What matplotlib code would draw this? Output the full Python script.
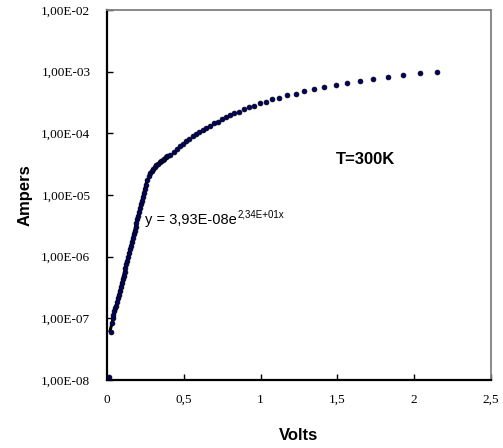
import numpy as np
import matplotlib
matplotlib.use("Agg")
import matplotlib.pyplot as plt
from matplotlib.ticker import FixedLocator, NullLocator, FuncFormatter

# ---- data ----
volts = [0.013,
         0.024, 0.030, 0.036, 0.042, 0.048, 0.054, 0.060, 0.066, 0.072, 0.078,
         0.084, 0.090, 0.096, 0.102, 0.108, 0.114, 0.120, 0.126, 0.132, 0.138,
         0.144, 0.150, 0.156, 0.162, 0.168, 0.174, 0.180, 0.186, 0.192, 0.198,
         0.204, 0.210, 0.216, 0.222, 0.228, 0.234, 0.240, 0.246, 0.252,
         0.262, 0.272, 0.282, 0.292, 0.302, 0.312, 0.322, 0.332, 0.342, 0.352,
         0.362, 0.372, 0.382, 0.392, 0.411, 0.433, 0.455, 0.476, 0.494, 0.515,
         0.537, 0.559, 0.580, 0.602, 0.624, 0.646, 0.672, 0.694, 0.720, 0.749,
         0.775, 0.803, 0.829, 0.862, 0.890, 0.922, 0.955, 0.994, 1.036, 1.075,
         1.123, 1.173, 1.232, 1.285, 1.350, 1.415, 1.490, 1.565, 1.645, 1.730,
         1.830, 1.930, 2.040, 2.150]
amps = [1.13e-8,
        5.9e-8, 8.5e-8, 1.0e-7, 1.15e-7, 1.3e-7, 1.45e-7, 1.60e-7, 1.84e-7, 2.12e-7, 2.43e-7,
        2.80e-7, 3.22e-7, 3.71e-7, 4.27e-7, 4.91e-7, 5.65e-7, 6.50e-7, 7.48e-7, 8.61e-7, 9.91e-7,
        1.14e-6, 1.31e-6, 1.51e-6, 1.74e-6, 2.00e-6, 2.30e-6, 2.65e-6, 3.05e-6, 3.51e-6, 4.04e-6,
        4.65e-6, 5.35e-6, 6.15e-6, 7.08e-6, 8.13e-6, 9.35e-6, 1.08e-5, 1.24e-5, 1.43e-5,
        1.78e-5, 2.04e-5, 2.24e-5, 2.45e-5, 2.63e-5, 2.82e-5, 3.02e-5, 3.16e-5, 3.39e-5, 3.55e-5,
        3.72e-5, 3.89e-5, 4.07e-5, 4.27e-5, 4.47e-5, 4.90e-5, 5.62e-5, 6.17e-5, 6.76e-5, 7.41e-5,
        8.13e-5, 8.91e-5, 9.77e-5, 1.05e-4, 1.15e-4, 1.23e-4, 1.32e-4, 1.45e-4, 1.55e-4, 1.70e-4,
        1.82e-4, 1.95e-4, 2.14e-4, 2.24e-4, 2.45e-4, 2.63e-4, 2.75e-4, 3.09e-4, 3.24e-4, 3.55e-4,
        3.80e-4, 4.17e-4, 4.37e-4, 4.79e-4, 5.25e-4, 5.62e-4, 6.03e-4, 6.46e-4, 7.08e-4, 7.59e-4,
        8.32e-4, 8.91e-4, 9.55e-4, 1.0e-3]

# exponential trendline y = a * exp(b x)
fit_a = 3.93e-8
fit_b = 23.4
fit_range = [0.02, 0.258]
fit_text = "y = 3,93E-08e"
fit_sup = "2,34E+01x"

x_ticks = [0, 0.5, 1, 1.5, 2, 2.5]
y_ticks = [1e-8, 1e-7, 1e-6, 1e-5, 1e-4, 1e-3, 1e-2]

plt.rcParams["font.family"] = ["Liberation Sans", "DejaVu Sans"]

# ---- figure ----
W, H = 503, 448
fig = plt.figure(figsize=(W / 100, H / 100), dpi=100)
ax = fig.add_axes([107 / W, 1 - 380 / H, (491 - 107) / W, (380 - 10) / H])

ax.set_yscale("log")
ax.set_xlim(0, 2.5)
ax.set_ylim(1e-8, 1e-2)

xf = np.linspace(fit_range[0], fit_range[1], 60)
ax.plot(xf, fit_a * np.exp(fit_b * xf), color="black", lw=2.2, zorder=2)
ax.plot(volts, amps, linestyle="none", marker="o", markersize=3.5,
        markerfacecolor="#000066", markeredgecolor="black", markeredgewidth=0.5,
        zorder=3)

ax.xaxis.set_major_locator(FixedLocator(x_ticks))
ax.yaxis.set_major_locator(FixedLocator(y_ticks))
ax.yaxis.set_minor_locator(NullLocator())
ax.xaxis.set_minor_locator(NullLocator())


def yfmt(v, pos):
    e = int(np.floor(np.log10(v) + 1e-9))
    m = v / 10 ** e
    return f"{m:.2f}".replace(".", ",") + f"E{e:+03d}"


def xfmt(v, pos):
    return f"{v:g}".replace(".", ",")


ax.yaxis.set_major_formatter(FuncFormatter(yfmt))
ax.xaxis.set_major_formatter(FuncFormatter(xfmt))

ax.tick_params(axis="y", direction="in", length=4, width=1, pad=12,
               labelsize=9.5)
ax.tick_params(axis="x", direction="in", length=4, width=1, pad=10,
               labelsize=9.5)
for lab in ax.get_xticklabels() + ax.get_yticklabels():
    lab.set_fontfamily("Liberation Serif")

ax.spines["left"].set_linewidth(1.6)
ax.spines["bottom"].set_linewidth(1.6)
ax.spines["left"].set_color("black")
ax.spines["bottom"].set_color("black")
ax.spines["top"].set_color("#808080")
ax.spines["right"].set_color("#808080")
ax.spines["top"].set_linewidth(1.3)
ax.spines["right"].set_linewidth(1.3)

ax.set_xlabel("Volts", fontweight="bold", fontsize=12, labelpad=16)
ax.set_ylabel("Ampers", fontweight="bold", fontsize=12, labelpad=6)

t1 = ax.text(0.248, 3.4e-6, fit_text, fontsize=10.5,
             ha="left", va="baseline")
ax.annotate(fit_sup, xy=(1, 0), xycoords=t1, xytext=(0.5, 5.5),
            textcoords="offset points", fontsize=7, ha="left", va="bottom")
ax.text(1.68, 3.7e-5, "T=300K", fontweight="bold", fontsize=12,
        ha="center", va="center")

fig.savefig("out.png", dpi=100)
